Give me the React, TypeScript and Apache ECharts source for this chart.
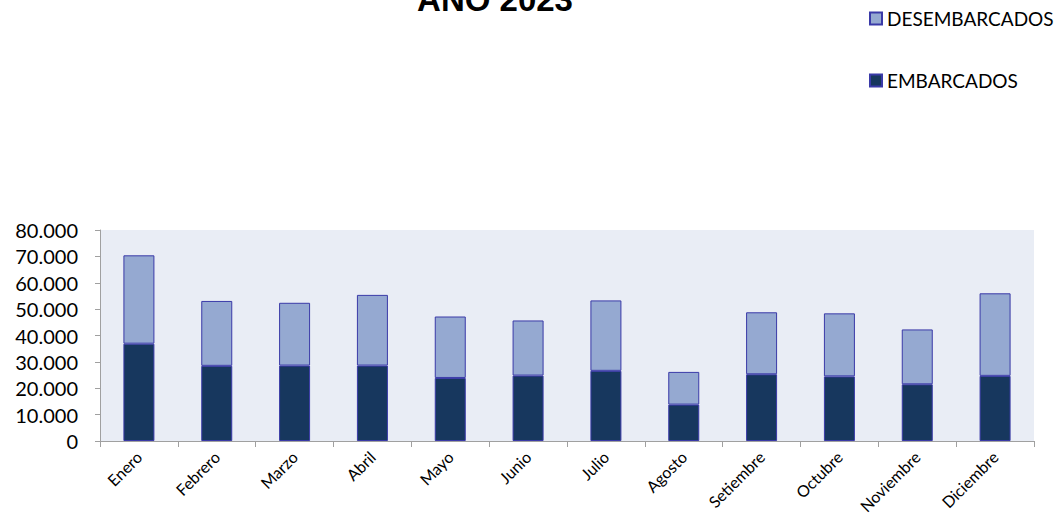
import React, { useEffect, useRef } from "react";
import * as echarts from "echarts";

const months = ["Enero", "Febrero", "Marzo", "Abril", "Mayo", "Junio", "Julio", "Agosto", "Setiembre", "Octubre", "Noviembre", "Diciembre"];
const embarcados = [36900, 28500, 28600, 28600, 23900, 24800, 26600, 13800, 25300, 24500, 21500, 24700];
const desembarcados = [33500, 24600, 23800, 26800, 23300, 20900, 26700, 12400, 23500, 23900, 20800, 31300];
const yTicks = [0, 10000, 20000, 30000, 40000, 50000, 60000, 70000, 80000];
const titleText = "AÑO 2023";

const fmt = (v: number) => String(v).replace(/\B(?=(\d{3})+(?!\d))/g, ".");

export default function App() {
  const ref = useRef<HTMLDivElement>(null);
  useEffect(() => {
    const chart = echarts.init(ref.current!, null, { renderer: "svg" });
    const legendCommon = {
      orient: "vertical",
      left: 869,
      padding: 0,
      itemWidth: 12,
      itemHeight: 12,
      itemGap: 6,
      icon: "rect",
      textStyle: { fontFamily: "Lato", fontSize: 19, color: "#000" },
    };
    chart.setOption({
      animation: false,
      graphic: [
        {
          type: "text",
          x: 495,
          y: -1,
          style: {
            text: titleText,
            fontFamily: "Liberation Sans",
            fontWeight: "bold",
            fontSize: 33,
            fill: "#000",
            align: "center",
            verticalAlign: "middle",
          },
        },
      ],
      legend: [
        { ...legendCommon, top: 9, data: ["DESEMBARCADOS"] },
        { ...legendCommon, top: 71, data: ["EMBARCADOS"] },
      ],
      grid: { left: 100, right: 24, top: 230, bottom: 90, backgroundColor: "#E9EDF5", show: true, borderWidth: 0 },
      xAxis: {
        type: "category",
        data: months,
        axisLine: { lineStyle: { color: "#A0A0A0", width: 1 } },
        axisTick: { show: true, length: 6, lineStyle: { color: "#A0A0A0" } },
        axisLabel: { rotate: 45, fontFamily: "Lato", fontSize: 16, color: "#000", margin: 13 },
      },
      yAxis: {
        type: "value",
        min: yTicks[0],
        max: yTicks[yTicks.length - 1],
        interval: 10000,
        splitLine: { show: false },
        axisLine: { show: true, lineStyle: { color: "#A0A0A0" } },
        axisTick: { show: true, length: 5, lineStyle: { color: "#A0A0A0" } },
        axisLabel: { fontFamily: "Lato", fontSize: 20, color: "#000", margin: 22, formatter: (v: number) => fmt(v) },
      },
      series: [
        {
          name: "EMBARCADOS",
          type: "bar",
          stack: "t",
          data: embarcados,
          barWidth: 31,
          itemStyle: { color: "#17375E", borderColor: "#3A3AA8", borderWidth: 1 },
        },
        {
          name: "DESEMBARCADOS",
          type: "bar",
          stack: "t",
          data: desembarcados,
          barWidth: 31,
          itemStyle: { color: "#95A9D1", borderColor: "#3A3AA8", borderWidth: 1 },
        },
      ],
    });
    return () => chart.dispose();
  }, []);
  return <div ref={ref} style={{ position: "absolute", left: 0, top: 0, width: 1058, height: 531 }} />;
}
